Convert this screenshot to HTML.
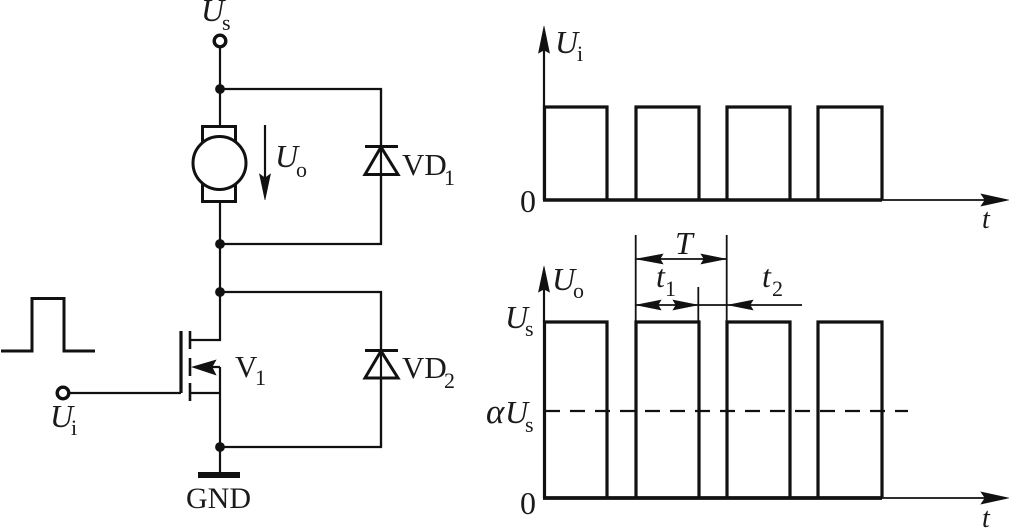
<!DOCTYPE html>
<html><head><meta charset="utf-8">
<style>
html,body{margin:0;padding:0;background:#fff;width:1009px;height:528px;overflow:hidden}
svg{display:block}
text{font-family:"Liberation Serif",serif;fill:#1a1a1a}
.i{font-style:italic;font-size:32px}
.r{font-size:31px}
.s{font-size:22px}
</style></head><body>
<svg width="1009" height="528" viewBox="0 0 1009 528" xmlns="http://www.w3.org/2000/svg">
<g fill="none" stroke="#111" stroke-width="2.2">
<!-- main rail -->
<path d="M220 47V126M220 202V340H190M220 89H381V244H220M220 292H381V447H220M220 367V475"/>
<path d="M381 89V146M381 175V244M381 292V350M381 378V447" />
<!-- motor -->
<rect x="202.500" y="126.500" width="33" height="75" stroke-width="3"/>
<circle cx="219.500" cy="163" r="26.500" fill="#fff" stroke-width="3"/>
<circle cx="220" cy="41" r="5.800" stroke-width="3.400" fill="#fff"/>
<circle cx="63" cy="393" r="5.800" stroke-width="3.400" fill="#fff"/>
<!-- Uo arrow -->
<path d="M265 125V180"/>
<!-- diodes -->
<path stroke-width="3" fill="#fff" d="M381 147L365 174.500H398Z"/>
<path stroke-width="3" d="M365 146.500H398"/>
<path stroke-width="3" fill="#fff" d="M381 351L365 378H398Z"/>
<path stroke-width="3" d="M365 350.500H398"/>
<path d="M381 350V378"/>
<path d="M381 147V175"/>
<!-- MOSFET -->
<path stroke-width="3.200" d="M181 331V393"/>
<path stroke-width="2.600" d="M190 331V349M190 358V376M190 383V401"/>
<path d="M70 393H181M190 393H220M195 367H220"/>
<!-- input pulse -->
<path stroke-width="3" d="M1 351H32V298.500H64V351H95"/>
<!-- upper waveform -->
<path stroke-width="2.200" d="M544 200V45"/>
<path stroke-width="3.200" d="M544.500 200V107H607V200M636 200V107H699V200M727 200V107H790V200M818 200V107H882V200"/>
<path stroke-width="3.600" d="M543 200H882"/>
<path stroke-width="1.800" d="M882 200H985"/>
<!-- lower waveform -->
<path stroke-width="2.200" d="M544 322V285"/>
<path stroke-width="3.200" d="M544.500 498V322H607V498M636 498V322H699V498M727 498V322H790V498M818 498V322H882V498"/>
<path stroke-width="3.800" d="M543 498H882"/>
<path stroke-width="1.800" d="M882 498H985"/>
<path stroke-width="2.200" stroke-dasharray="15 10" d="M545 411H908"/>
<!-- dimensions -->
<path stroke-width="1.800" d="M635.700 235V322M726.700 235V322M698.300 287V322M636 259H726M636 305H802"/>
</g>
<g fill="#111" stroke="#111" stroke-width="0.6">
<circle cx="220" cy="89" r="4.600"/><circle cx="220" cy="244" r="4.600"/>
<circle cx="220" cy="292" r="4.600"/><circle cx="220" cy="447" r="4.600"/>
<rect x="198" y="472" width="42" height="6" stroke="none"/>
<path d="M265 200L259.500 174L265 178L270.500 174Z"/>
<path d="M192 367L216 360L212 367L216 375Z"/>
<path d="M544 26L538.500 53L544 50L549.500 53Z"/>
<path d="M544 266L538.500 292L544 289L549.500 292Z"/>
<path d="M1009 200L981 194L985 200L981 206Z"/>
<path d="M1009 498L981 492L985 498L981 504Z"/>
<path d="M636 259L663 254L660 259L663 264Z"/>
<path d="M726 259L701 254L704 259L701 264Z"/>
<path d="M636 305L661 300L658 305L661 310Z"/>
<path d="M698 305L673 300L676 305L673 310Z"/>
<path d="M728 305L753 300L750 305L753 310Z"/>
</g>
<!-- labels -->
<text class="i" x="201" y="21">U</text><text class="s" x="222" y="30">s</text>
<text class="i" x="275" y="167">U</text><text class="s" x="296" y="177">o</text>
<text class="r" x="402" y="175">VD</text><text class="s" x="444" y="185">1</text>
<text class="r" x="402" y="378">VD</text><text class="s" x="444" y="388">2</text>
<text class="r" x="235" y="377">V</text><text class="s" x="255" y="385">1</text>
<text class="i" x="50" y="427">U</text><text class="s" x="71" y="435">i</text>
<text x="186" y="508" style="font-size:30px">GND</text>
<text class="i" x="555" y="53">U</text><text class="s" x="577" y="61">i</text>
<text class="r" x="520" y="212" style="font-size:32px">0</text>
<text class="i" x="982" y="228" style="font-size:28px">t</text>
<text class="i" x="552" y="290">U</text><text class="s" x="573" y="298">o</text>
<text class="i" x="505" y="328">U</text><text class="s" x="525" y="336">s</text>
<text class="i" x="486" y="423" style="font-size:35px">α</text><text class="i" x="505" y="423">U</text><text class="s" x="525" y="432">s</text>
<text class="r" x="520" y="514" style="font-size:32px">0</text>
<text class="i" x="982" y="527" style="font-size:28px">t</text>
<text class="i" x="675" y="254">T</text>
<text class="i" x="656" y="287">t</text><text class="s" x="665" y="296">1</text>
<text class="i" x="762" y="287">t</text><text class="s" x="772" y="296">2</text>
</svg>
</body></html>
